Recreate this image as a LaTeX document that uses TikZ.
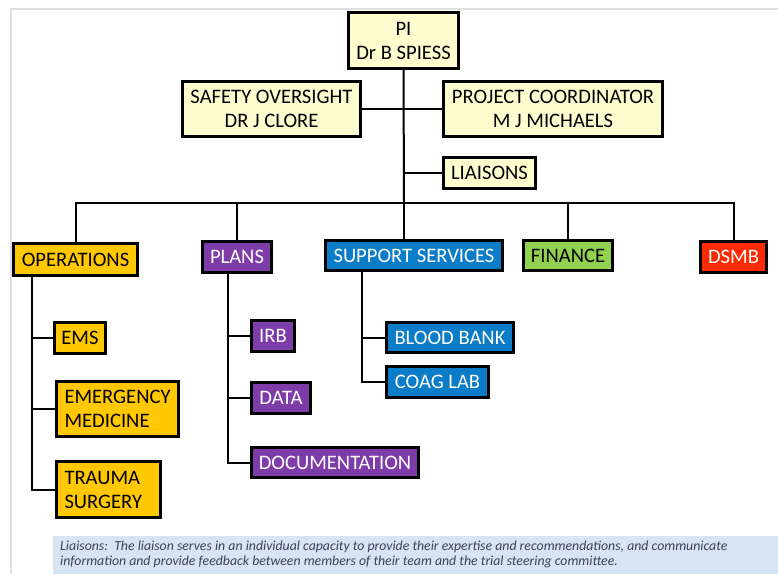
\documentclass[tikz,border=0pt]{standalone}
\usepackage{fontspec}
\setmainfont{Carlito}
\definecolor{paleY}{HTML}{FFFCCF}
\definecolor{gold}{HTML}{FFC800}
\definecolor{purp}{HTML}{7D3CA8}
\definecolor{blu}{HTML}{0A7CC8}
\definecolor{grn}{HTML}{92D050}
\definecolor{rd}{HTML}{FF2A00}
\definecolor{notebg}{HTML}{D6E4F3}
\definecolor{notetx}{HTML}{3C4258}
\tikzset{
  box/.style={draw=black, line width=2.6pt, inner sep=0pt, align=center,
    font=\fontsize{20.6}{24}\selectfont},
  lbox/.style={box, align=left, inner xsep=8pt},
  conn/.style={draw=black, line width=2pt},
}
\begin{document}
\begin{tikzpicture}[x=1pt,y=-1pt]
\useasboundingbox (0,0) rectangle (778,574);
% frame
\draw[black!12, line width=1.5pt] (11,574) -- (11,9) -- (778,9);
% note
\fill[notebg] (53,536) rectangle (778,574);
\node[anchor=north west, inner sep=0pt, align=left,
  font=\fontsize{13.8}{15.5}\selectfont\itshape, text=notetx] (note) at (60,540.5)
  {Liaisons:\ \ The liaison serves in an individual capacity to provide their expertise and recommendations, and communicate\\ information and provide feedback between members of their team and the trial steering committee.};

% top nodes
\node[box, fill=paleY, minimum width=110pt, minimum height=56pt] (pi) at (403.5,40.5) {PI\\Dr B SPIESS};
\node[box, fill=paleY, minimum width=178pt, minimum height=55pt] (safety) at (271.5,109) {SAFETY OVERSIGHT\\DR J CLORE};
\node[box, fill=paleY, minimum width=219pt, minimum height=55pt] (proj) at (553,109) {PROJECT COORDINATOR\\M J MICHAELS};
\node[box, fill=paleY, minimum width=92pt, minimum height=31pt] (liaisons) at (489.5,173) {LIAISONS};

% second level
\node[box, fill=gold, minimum width=124pt, minimum height=32pt] (ops) at (75.5,259.5) {OPERATIONS};
\node[box, fill=purp, text=white, minimum width=69pt, minimum height=31pt] (plans) at (237,257) {PLANS};
\node[box, fill=blu, text=white, minimum width=177pt, minimum height=30pt] (support) at (414,255.5) {SUPPORT SERVICES};
\node[box, fill=grn, minimum width=89pt, minimum height=30pt] (finance) at (568,255.5) {FINANCE};
\node[box, fill=rd, text=white, minimum width=66pt, minimum height=31pt] (dsmb) at (733.5,257) {DSMB};

% operations children
\node[box, fill=gold, minimum width=51pt, minimum height=31pt] (ems) at (80,338) {EMS};
\node[lbox, fill=gold, text width=106pt, minimum height=55pt] (emerg) at (117.5,409) {EMERGENCY\\MEDICINE};
\node[lbox, fill=gold, text width=88pt, minimum height=56pt] (trauma) at (108.5,489.5) {TRAUMA\\SURGERY};

% plans children
\node[box, fill=purp, text=white, minimum width=43pt, minimum height=31pt] (irb) at (273,336) {IRB};
\node[box, fill=purp, text=white, minimum width=59pt, minimum height=31pt] (data) at (281,398) {DATA};
\node[box, fill=purp, text=white, minimum width=167pt, minimum height=30pt] (doc) at (335,462.5) {DOCUMENTATION};

% support children
\node[box, fill=blu, text=white, minimum width=127pt, minimum height=30pt] (blood) at (450,337.5) {BLOOD BANK};
\node[box, fill=blu, text=white, minimum width=102pt, minimum height=31pt] (coag) at (437.5,382) {COAG LAB};

% connector coordinates
\coordinate (bus) at (404,203);
\path (ops.south west) ++(20,0) coordinate (ov);
\path (plans.south west) ++(27,0) coordinate (pv);
\path (support.south west) ++(38,0) coordinate (sv);

% connectors
\draw[conn] (pi.south) -- (bus);
\draw[conn] (safety.east) -- (proj.west);
\draw[conn] (liaisons.west) -- (liaisons.west -| pi.south);
\draw[conn] (ops.north) |- (bus) -| (dsmb.north);
\draw[conn] (plans.north) -- (plans.north |- bus);
\draw[conn] (support.north -| bus) -- (bus);
\draw[conn] (finance.north) -- (finance.north |- bus);

\draw[conn] (ov) |- (trauma.west);
\draw[conn] (ems.west) -- (ems.west -| ov);
\draw[conn] (emerg.west) -- (emerg.west -| ov);

\draw[conn] (pv) |- (doc.west);
\draw[conn] (irb.west) -- (irb.west -| pv);
\draw[conn] (data.west) -- (data.west -| pv);

\draw[conn] (sv) |- (coag.west);
\draw[conn] (blood.west) -- (blood.west -| sv);
\end{tikzpicture}
\end{document}
